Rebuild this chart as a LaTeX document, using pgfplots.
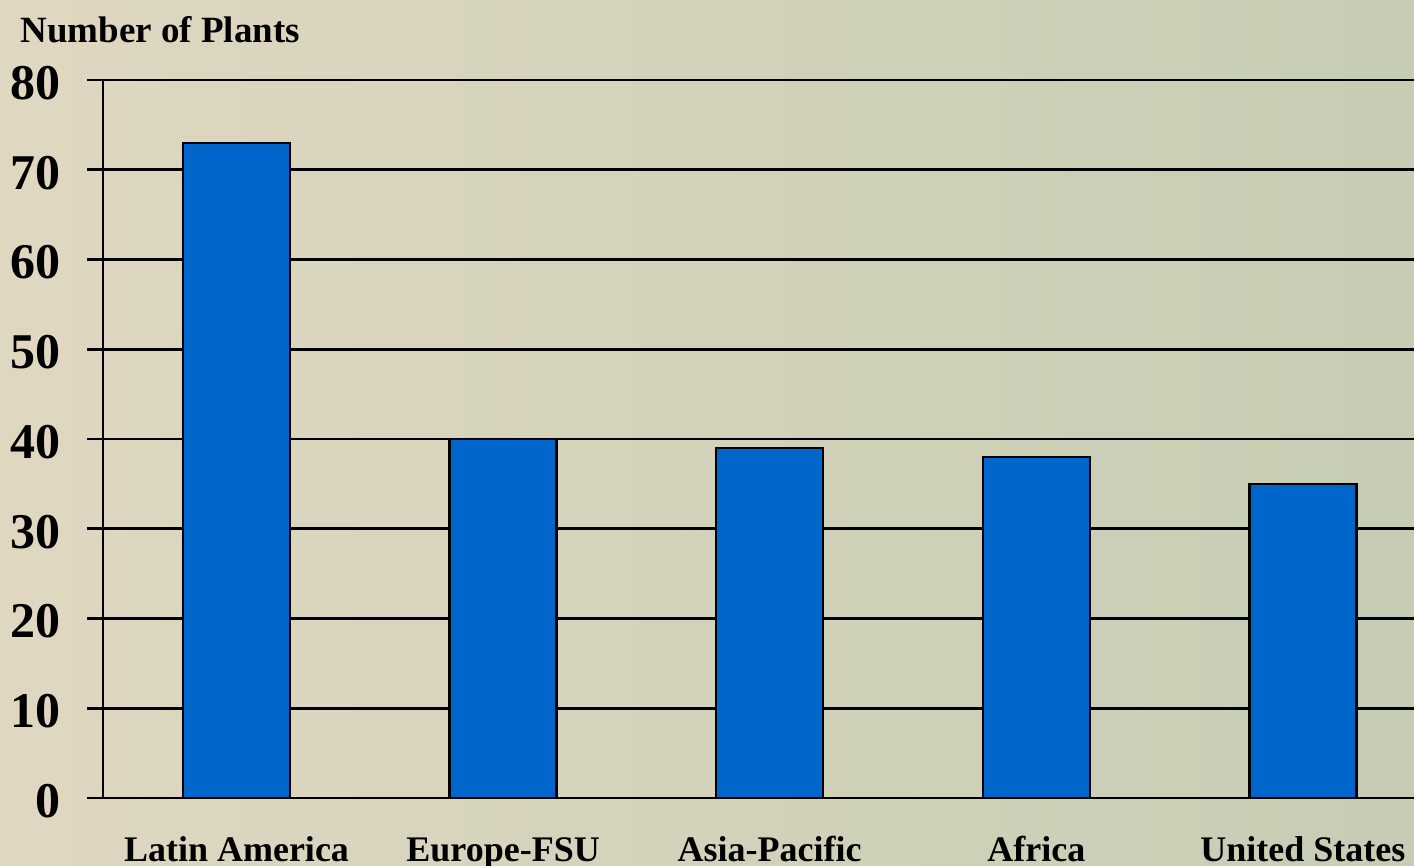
\documentclass[border=0pt]{standalone}
\usepackage{pgfplots}
\pgfplotsset{compat=1.18}
\usepackage{fontspec}
\setmainfont{Liberation Serif}
\definecolor{barblue}{RGB}{0,102,204}
\definecolor{bgleft}{RGB}{224,215,193}
\definecolor{bgright}{RGB}{198,205,180}
\begin{document}
\begin{tikzpicture}
\useasboundingbox (0,0) rectangle (707pt,433pt);
\clip (0,0) rectangle (707pt,433pt);
\shade[left color=bgleft, right color=bgright] (0,0) rectangle (707pt,433pt);
\begin{axis}[
  at={(51.6pt,34pt)}, anchor=south west,
  scale only axis, width=666.5pt, height=359pt,
  xmin=-0.5, xmax=4.5, ymin=0, ymax=80,
  ybar, bar width=53.5pt,
  axis lines*=left,
  axis line style={black, line width=1.3pt},
  xtick={0,1,2,3,4},
  xticklabels={Latin America,Europe-FSU,Asia-Pacific,Africa,United States},
  xtick style={draw=none},
  xticklabel style={font=\fontsize{18}{18}\selectfont\bfseries, anchor=base, inner sep=0pt, yshift=-24pt},
  ytick={0,10,...,80},
  ytick style={black, line width=1.3pt},
  tick align=outside, major tick length=8pt,
  yticklabel style={font=\fontsize{25}{25}\selectfont\bfseries, anchor=east, inner sep=0pt, xshift=-13pt, yshift=-1.5pt},
  /pgf/number format/assume math mode=true,
  ymajorgrids, grid style={black, line width=1.3pt},
  clip=false,
]
\addplot[fill=barblue, draw=black, line width=1.2pt] coordinates {(0,73) (1,40) (2,39) (3,38) (4,35)};
\end{axis}
\node[anchor=base west, inner sep=0pt, font=\fontsize{18.5}{18.5}\selectfont\bfseries] at (10pt,411.5pt) {Number of Plants};
\end{tikzpicture}
\end{document}
